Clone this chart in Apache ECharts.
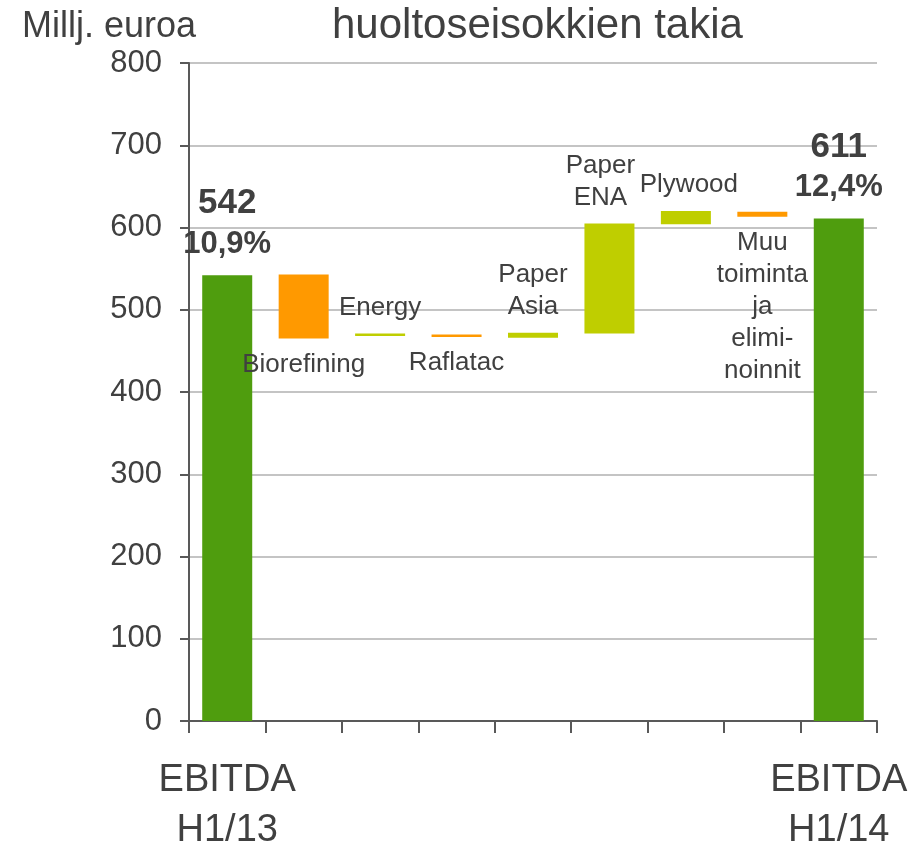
<!DOCTYPE html>
<html>
<head>
<meta charset="utf-8">
<script src="https://cdn.jsdelivr.net/npm/echarts@6/dist/echarts.min.js"></script>
<style>html,body{margin:0;padding:0;background:#fff;}#c{width:922px;height:844px;}</style>
</head>
<body>
<div id="c"></div>
<script>
const categories = ['EBITDA\nH1/13', 'Biorefining', 'Energy', 'Raflatac', 'Paper\nAsia', 'Paper\nENA', 'Plywood', 'Muu\ntoiminta\nja\nelimi-\nnoinnit', 'EBITDA\nH1/14'];
const lows  = [0, 465, 468, 467, 466, 471, 604, 613, 0];
const highs = [542, 543, 471, 470, 472, 605, 620, 619, 611];
const barTypes = ['total', 'down', 'up', 'down', 'up', 'up', 'up', 'down', 'total'];
const totalLabels = ['542', '', '', '', '', '', '', '', '611'];
const marginLabels = ['10,9%', '', '', '', '', '', '', '', '12,4%'];
const yTicks = [0, 100, 200, 300, 400, 500, 600, 700, 800];

const FONT = '"Liberation Sans", Arial, sans-serif';
const TXT = '#404040';
const colorOf = { total: '#4f9d0e', up: '#bfce00', down: '#ff9900' };
const labelSide = ['top', 'bottom', 'top', 'bottom', 'top', 'top', 'top', 'bottom', 'top'];
const labelShift = [0, 0, 0, 0, 0, -9, 3, 0, 0];

const visible = highs.map((h, i) => {
  const item = {
    value: h - lows[i],
    itemStyle: { color: colorOf[barTypes[i]] }
  };
  if (barTypes[i] === 'total') {
    item.label = {
      show: true, position: 'top', distance: 10,
      formatter: '{v|' + totalLabels[i] + '}\n{p|' + marginLabels[i] + '}',
      rich: {
        v: { fontFamily: FONT, fontSize: 35, fontWeight: 'bold', color: TXT, lineHeight: 41 },
        p: { fontFamily: FONT, fontSize: 31, fontWeight: 'bold', color: TXT, lineHeight: 41 }
      }
    };
  } else {
    item.label = {
      show: true, position: labelSide[i], distance: 10, offset: [labelShift[i], 0],
      formatter: categories[i],
      fontFamily: FONT, fontSize: 26, color: TXT, lineHeight: 32, align: 'center'
    };
  }
  return item;
});

const chart = echarts.init(document.getElementById('c'), null, { renderer: 'canvas', width: 922, height: 844 });
chart.setOption({
  animation: false,
  backgroundColor: '#fff',
  textStyle: { fontFamily: FONT },
  title: [
    { text: 'Millj. euroa', left: 17, top: 1, textStyle: { fontFamily: FONT, fontSize: 36, fontWeight: 'normal', color: TXT, lineHeight: 42 } },
    { text: 'huoltoseisokkien takia', left: 327, top: -2, textStyle: { fontFamily: FONT, fontSize: 42, fontWeight: 'normal', color: TXT, lineHeight: 47 } }
  ],
  grid: { left: 189, width: 688, top: 63, height: 658, containLabel: false, outerBoundsMode: 'none' },
  xAxis: {
    type: 'category',
    data: categories,
    boundaryGap: true,
    axisLine: { lineStyle: { color: '#595959', width: 2 } },
    axisTick: { show: true, length: 12, lineStyle: { color: '#595959', width: 2 } },
    axisLabel: {
      interval: 0, margin: 35, fontFamily: FONT, fontSize: 38, color: TXT, lineHeight: 50,
      formatter: (v, i) => (i === 0 || i === categories.length - 1) ? v : ''
    }
  },
  yAxis: {
    type: 'value',
    min: yTicks[0], max: yTicks[yTicks.length - 1], interval: 100,
    axisLine: { show: true, lineStyle: { color: '#595959', width: 2 } },
    axisTick: { show: true, length: 9, lineStyle: { color: '#595959', width: 2 } },
    axisLabel: { margin: 27, fontFamily: FONT, fontSize: 31, color: TXT },
    splitLine: { show: true, lineStyle: { color: '#c4c4c4', width: 2 } }
  },
  series: [
    {
      type: 'bar', stack: 'w', barWidth: 50, silent: true,
      itemStyle: { color: 'transparent' },
      data: lows
    },
    {
      type: 'bar', stack: 'w', barWidth: 50,
      data: visible
    }
  ]
});
</script>
</body>
</html>
